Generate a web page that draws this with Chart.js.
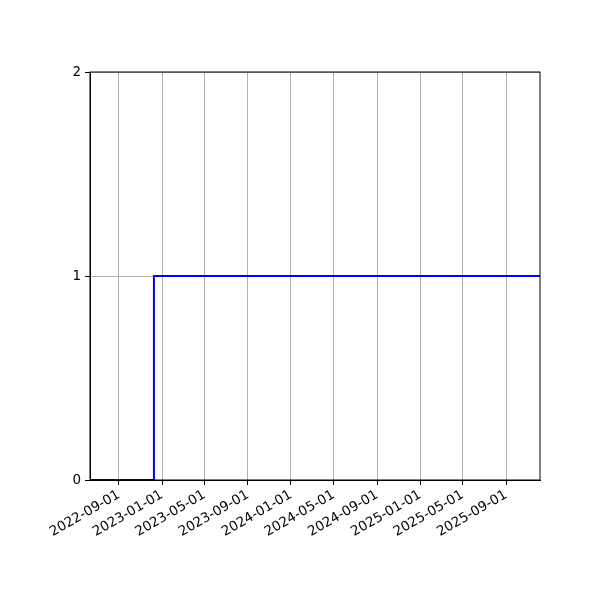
<!DOCTYPE html>
<html>
<head>
	<title> Step Chart </title>
	<script src="https://cdn.jsdelivr.net/npm/chart.js@4"></script>
	<style>
		html, body { margin: 0; padding: 0; background: #fff; }
		#wrap { width: 600px; height: 600px; }
	</style>
</head>
<body>
	<div id="wrap"><canvas id="canvas"></canvas></div>
	<script type="text/javascript">
		// values
		var stepDates = ['2022-06-11', '2022-12-09', '2025-12-06'];
		var stepValues = [0, 1, 1];
		var xTickDates = ['2022-09-01', '2023-01-01', '2023-05-01', '2023-09-01', '2024-01-01',
			'2024-05-01', '2024-09-01', '2025-01-01', '2025-05-01', '2025-09-01'];
		var yTicks = [0, 1, 2];

		function toMs(s) {
			var p = s.split('-');
			return Date.UTC(+p[0], +p[1] - 1, +p[2]);
		}
		function fmt(ms) {
			var d = new Date(ms);
			var m = d.getUTCMonth() + 1, day = d.getUTCDate();
			return d.getUTCFullYear() + '-' + (m < 10 ? '0' : '') + m + '-' + (day < 10 ? '0' : '') + day;
		}

		var points = stepDates.map(function(d, i) { return {x: toMs(d), y: stepValues[i]}; });

		// box around the plot area, like the matplotlib spines
		var boxPlugin = {
			id: 'box',
			afterDraw: function(chart) {
				var a = chart.chartArea, ctx = chart.ctx;
				ctx.save();
				ctx.strokeStyle = '#000';
				ctx.lineWidth = 1;
				ctx.strokeRect(a.left, a.top, a.right - a.left, a.bottom - a.top);
				ctx.restore();
			}
		};

		var font = {family: 'DejaVu Sans', size: 13.5};

		new Chart(document.getElementById('canvas').getContext('2d'), {
			type: 'line',
			data: {
				datasets: [{
					data: points,
					borderColor: '#0000ff',
					borderWidth: 2,
					pointRadius: 0,
					stepped: true,
					fill: false
				}]
			},
			options: {
				responsive: true,
				maintainAspectRatio: false,
				animation: false,
				layout: {padding: {left: 0, top: 72, right: 60, bottom: 0}},
				plugins: {legend: {display: false}, tooltip: {enabled: false}},
				scales: {
					x: {
						type: 'linear',
						min: toMs(stepDates[0]),
						max: toMs(stepDates[stepDates.length - 1]),
						afterBuildTicks: function(scale) {
							scale.ticks = xTickDates.map(function(d) { return {value: toMs(d)}; });
						},
						afterFit: function(scale) { scale.height = 120; },
						grid: {color: '#b0b0b0', lineWidth: 1, tickColor: '#000', tickLength: 5},
						border: {color: '#000'},
						ticks: {
							font: font, color: '#000',
							minRotation: 30, maxRotation: 30, padding: 2,
							autoSkip: false,
							callback: function(v) { return fmt(v); }
						}
					},
					y: {
						min: yTicks[0],
						max: yTicks[yTicks.length - 1],
						afterBuildTicks: function(scale) {
							scale.ticks = yTicks.map(function(v) { return {value: v}; });
						},
						afterFit: function(scale) { scale.width = 90; },
						grid: {color: '#b0b0b0', lineWidth: 1, tickColor: '#000', tickLength: 5},
						border: {color: '#000'},
						ticks: {font: font, color: '#000', padding: 4}
					}
				}
			},
			plugins: [boxPlugin]
		});
	</script>
</body>
</html>
